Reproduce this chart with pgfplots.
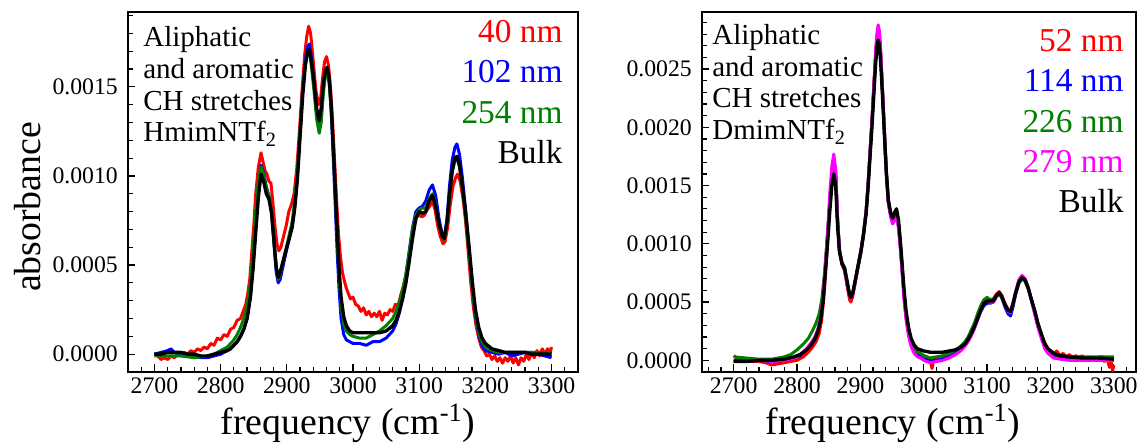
\documentclass[border=0pt]{standalone}
\usepackage{fontspec}
\setmainfont{Liberation Serif}
\usepackage{pgfplots}
\pgfplotsset{compat=1.18}

\definecolor{dgreen}{RGB}{0,128,0}
\definecolor{mag}{RGB}{255,0,255}
\definecolor{pred}{RGB}{255,0,0}
\definecolor{pblue}{RGB}{0,0,255}
\newcommand{\annot}{\fontsize{16.5}{18}\selectfont}
\newcommand{\leg}{\fontsize{19}{22}\selectfont}
\newcommand{\lab}{\fontsize{21.5}{24}\selectfont}

\pgfplotsset{
  spec/.style={
    scale only axis,
    height=7.2cm,
    axis line style={line width=0.9pt},
    tick style={black, line width=0.7pt},
    tick align=inside,
    tick pos=left,
    major tick length=0.15cm,
    minor tick length=0.1cm,
    xtick={2700,2800,...,3300},
    scaled y ticks=false,
    /pgf/number format/assume math mode=true,
    ticklabel style={font=\fontsize{13.5}{15}\selectfont},
    xticklabel style={/pgf/number format/1000 sep=},
    yticklabel style={xshift=-0.08cm, /pgf/number format/fixed, /pgf/number format/fixed zerofill, /pgf/number format/precision=4},
    every axis plot/.append style={line width=1.7pt, line join=round, mark=none},
  }
}

\begin{document}
\begin{tikzpicture}
\path[use as bounding box] (-2.56cm,-1.46cm) rectangle (20.2cm,7.44cm);

% ---------------- left panel: HmimNTf2 ----------------
\begin{axis}[spec, name=L, width=9cm,
  xmin=2660, xmax=3340, ymin=-0.0001, ymax=0.00192,
  minor xtick={2660,2680,...,3340},
  ytick={0,0.0005,0.001,0.0015},
  minor ytick={-0.0001,0.0001,0.0002,0.0003,0.0004,0.0006,0.0007,0.0008,0.0009,0.0011,0.0012,0.0013,0.0014,0.0016,0.0017,0.0018,0.0019},
]
% 40 nm
\addplot[pred] coordinates {
(2700,0.00000)(2705,-0.00001)(2710,-0.00003)(2715,-0.00002)(2720,-0.00003)(2725,-0.00001)(2730,-0.00002)(2735,0.00000)(2740,-0.00001)(2745,0.00001)(2750,0.00000)(2755,0.00002)(2760,0.00001)(2765,0.00003)(2770,0.00002)(2775,0.00004)(2780,0.00003)(2785,0.00006)(2790,0.00005)(2795,0.00009)(2800,0.00008)(2805,0.00011)(2810,0.00010)(2815,0.00014)(2820,0.00015)(2825,0.00019)(2830,0.00020)(2835,0.00025)(2838,0.00028)(2841,0.00034)(2844,0.00042)(2847,0.00057)(2850,0.00072)(2853,0.00090)(2857,0.00105)(2861,0.00113)(2864,0.00108)(2867,0.00103)(2870,0.00101)(2873,0.00097)(2876,0.00096)(2879,0.00085)(2882,0.00072)(2885,0.00062)(2888,0.00058)(2891,0.00060)(2895,0.00066)(2899,0.00072)(2903,0.00080)(2907,0.00084)(2911,0.00090)(2915,0.00104)(2919,0.00125)(2923,0.00148)(2927,0.00168)(2930,0.00178)(2933,0.00184)(2936,0.00180)(2940,0.00164)(2944,0.00148)(2948,0.00140)(2951,0.00143)(2954,0.00155)(2957,0.00164)(2960,0.00167)(2963,0.00162)(2966,0.00150)(2969,0.00132)(2972,0.00110)(2975,0.00088)(2978,0.00068)(2981,0.00055)(2984,0.00046)(2987,0.00041)(2990,0.00037)(2993,0.00034)(2996,0.00031)(3000,0.00032)(3004,0.00028)(3008,0.00027)(3012,0.00024)(3016,0.00026)(3020,0.00022)(3024,0.00024)(3028,0.00021)(3032,0.00023)(3036,0.00021)(3040,0.00024)(3044,0.00019)(3048,0.00023)(3052,0.00022)(3056,0.00025)(3060,0.00024)(3064,0.00028)(3068,0.00027)(3072,0.00033)(3076,0.00038)(3080,0.00044)(3084,0.00053)(3088,0.00063)(3092,0.00072)(3096,0.00077)(3100,0.00078)(3104,0.00077)(3108,0.00078)(3112,0.00081)(3116,0.00083)(3120,0.00086)(3124,0.00081)(3128,0.00072)(3132,0.00066)(3136,0.00062)(3139,0.00063)(3143,0.00071)(3147,0.00084)(3151,0.00094)(3155,0.00099)(3158,0.00101)(3162,0.00097)(3166,0.00088)(3170,0.00075)(3174,0.00058)(3178,0.00040)(3182,0.00026)(3186,0.00016)(3190,0.00009)(3194,0.00004)(3198,0.00002)(3202,-0.00001)(3206,0.00000)(3210,-0.00003)(3214,-0.00001)(3218,-0.00004)(3222,-0.00002)(3226,-0.00005)(3230,-0.00002)(3234,-0.00004)(3238,-0.00001)(3242,-0.00005)(3246,-0.00002)(3250,-0.00006)(3254,-0.00002)(3258,-0.00004)(3262,0.00000)(3266,-0.00003)(3270,0.00001)(3274,-0.00002)(3278,0.00002)(3282,-0.00001)(3286,0.00003)(3290,0.00000)(3294,0.00003)(3298,0.00001)(3300,0.00004)
};
% 102 nm
\addplot[pblue] coordinates {
(2700,0.00000)(2710,0.00001)(2720,0.00002)(2725,0.00003)(2730,0.00001)(2740,0.00000)(2760,-0.00001)(2770,-0.00002)(2780,-0.00002)(2790,-0.00001)(2800,0.00000)(2810,0.00002)(2820,0.00005)(2825,0.00007)(2830,0.00010)(2835,0.00014)(2840,0.00020)(2845,0.00033)(2849,0.00050)(2853,0.00072)(2857,0.00093)(2861,0.00106)(2865,0.00102)(2869,0.00094)(2873,0.00089)(2877,0.00079)(2881,0.00060)(2884,0.00046)(2887,0.00040)(2890,0.00042)(2897,0.00054)(2903,0.00064)(2908,0.00072)(2912,0.00083)(2916,0.00100)(2920,0.00124)(2924,0.00148)(2928,0.00165)(2931,0.00172)(2934,0.00174)(2937,0.00167)(2941,0.00153)(2945,0.00137)(2949,0.00130)(2952,0.00137)(2955,0.00150)(2958,0.00158)(2961,0.00160)(2964,0.00153)(2967,0.00137)(2970,0.00112)(2973,0.00085)(2976,0.00058)(2979,0.00036)(2982,0.00020)(2986,0.00011)(2990,0.00008)(2995,0.00007)(3000,0.00006)(3010,0.00006)(3020,0.00005)(3030,0.00007)(3040,0.00007)(3050,0.00009)(3060,0.00013)(3065,0.00017)(3070,0.00023)(3075,0.00032)(3080,0.00044)(3085,0.00058)(3090,0.00071)(3095,0.00080)(3100,0.00082)(3105,0.00083)(3110,0.00086)(3115,0.00092)(3120,0.00095)(3125,0.00089)(3130,0.00076)(3135,0.00067)(3138,0.00065)(3142,0.00076)(3146,0.00095)(3150,0.00109)(3154,0.00116)(3157,0.00118)(3161,0.00112)(3165,0.00100)(3170,0.00082)(3175,0.00060)(3180,0.00039)(3185,0.00021)(3190,0.00011)(3195,0.00005)(3200,0.00002)(3210,0.00001)(3220,0.00000)(3230,0.00001)(3240,-0.00001)(3250,0.00000)(3260,0.00001)(3270,0.00001)(3280,0.00000)(3290,-0.00001)(3300,-0.00002)
};
% 254 nm
\addplot[dgreen] coordinates {
(2700,-0.00001)(2720,-0.00001)(2740,-0.00001)(2760,-0.00002)(2780,-0.00001)(2790,0.00000)(2800,0.00002)(2810,0.00004)(2820,0.00008)(2825,0.00011)(2830,0.00015)(2835,0.00020)(2840,0.00027)(2845,0.00040)(2849,0.00058)(2853,0.00080)(2857,0.00097)(2861,0.00105)(2865,0.00101)(2869,0.00093)(2873,0.00089)(2877,0.00080)(2881,0.00062)(2884,0.00048)(2887,0.00042)(2890,0.00045)(2897,0.00056)(2903,0.00066)(2908,0.00074)(2912,0.00086)(2916,0.00103)(2920,0.00126)(2924,0.00148)(2928,0.00163)(2931,0.00169)(2934,0.00170)(2937,0.00162)(2941,0.00148)(2945,0.00132)(2949,0.00124)(2952,0.00130)(2955,0.00145)(2958,0.00156)(2961,0.00158)(2964,0.00152)(2967,0.00138)(2970,0.00116)(2973,0.00092)(2976,0.00066)(2979,0.00043)(2982,0.00027)(2986,0.00017)(2990,0.00013)(2995,0.00011)(3000,0.00010)(3010,0.00009)(3020,0.00009)(3030,0.00011)(3040,0.00013)(3050,0.00016)(3060,0.00020)(3065,0.00024)(3070,0.00029)(3075,0.00036)(3080,0.00045)(3085,0.00057)(3090,0.00070)(3095,0.00078)(3100,0.00081)(3105,0.00082)(3110,0.00082)(3115,0.00087)(3120,0.00090)(3125,0.00084)(3130,0.00073)(3135,0.00066)(3138,0.00064)(3142,0.00073)(3146,0.00089)(3150,0.00102)(3154,0.00109)(3157,0.00110)(3161,0.00105)(3165,0.00094)(3170,0.00078)(3175,0.00058)(3180,0.00038)(3185,0.00022)(3190,0.00012)(3195,0.00007)(3200,0.00004)(3210,0.00002)(3220,0.00001)(3250,0.00001)(3300,0.00001)
};
% Bulk
\addplot[black, line width=1.9pt] coordinates {
(2700,0.00000)(2710,0.00000)(2720,0.00001)(2730,0.00001)(2740,0.00001)(2750,0.00000)(2760,0.00000)(2770,-0.00001)(2780,-0.00001)(2790,0.00000)(2800,0.00001)(2810,0.00002)(2815,0.00003)(2820,0.00005)(2825,0.00007)(2830,0.00010)(2835,0.00014)(2840,0.00020)(2845,0.00032)(2849,0.00048)(2853,0.00068)(2857,0.00088)(2861,0.00101)(2865,0.00097)(2869,0.00090)(2873,0.00087)(2877,0.00079)(2881,0.00062)(2884,0.00049)(2887,0.00043)(2890,0.00046)(2897,0.00056)(2903,0.00064)(2908,0.00071)(2912,0.00082)(2916,0.00098)(2920,0.00122)(2924,0.00145)(2928,0.00162)(2931,0.00169)(2934,0.00171)(2937,0.00165)(2941,0.00153)(2945,0.00138)(2949,0.00131)(2952,0.00138)(2955,0.00151)(2958,0.00159)(2961,0.00161)(2964,0.00155)(2967,0.00140)(2970,0.00118)(2973,0.00095)(2976,0.00070)(2979,0.00048)(2982,0.00032)(2986,0.00021)(2990,0.00016)(2995,0.00013)(3000,0.00012)(3010,0.00012)(3020,0.00012)(3030,0.00012)(3040,0.00012)(3050,0.00013)(3060,0.00016)(3065,0.00019)(3070,0.00024)(3075,0.00031)(3080,0.00040)(3085,0.00052)(3090,0.00065)(3095,0.00076)(3100,0.00080)(3105,0.00079)(3110,0.00080)(3115,0.00086)(3120,0.00089)(3125,0.00083)(3130,0.00073)(3135,0.00066)(3138,0.00065)(3142,0.00074)(3146,0.00090)(3150,0.00103)(3154,0.00110)(3157,0.00111)(3161,0.00106)(3165,0.00095)(3170,0.00080)(3175,0.00062)(3180,0.00042)(3185,0.00025)(3190,0.00015)(3195,0.00009)(3200,0.00006)(3210,0.00003)(3220,0.00002)(3230,0.00001)(3260,0.00001)(3270,0.00000)(3300,0.00000)
};
\end{axis}

% ---------------- right panel: DmimNTf2 ----------------
\begin{axis}[spec, name=R, width=8.68cm, at={(11.48cm,0)}, anchor=south west,
  xmin=2650, xmax=3335, ymin=-0.0001, ymax=0.00299,
  minor xtick={2660,2680,...,3320},
  ytick={0,0.0005,0.001,0.0015,0.002,0.0025},
  minor ytick={-0.0001,0.0001,0.0002,0.0003,0.0004,0.0006,0.0007,0.0008,0.0009,0.0011,0.0012,0.0013,0.0014,0.0016,0.0017,0.0018,0.0019,0.0021,0.0022,0.0023,0.0024,0.0026,0.0027,0.0028,0.0029},
]
% 52 nm
\addplot[pred] coordinates {
(2700,0.00004)(2705,0.00002)(2710,0.00001)(2720,0.00000)(2730,-0.00001)(2740,-0.00001)(2750,-0.00002)(2760,-0.00004)(2770,-0.00003)(2780,-0.00002)(2790,-0.00001)(2800,0.00000)(2810,0.00003)(2818,0.00007)(2824,0.00011)(2830,0.00016)(2835,0.00023)(2839,0.00035)(2843,0.00058)(2847,0.00092)(2850,0.00120)(2853,0.00145)(2856,0.00163)(2858,0.00170)(2861,0.00160)(2864,0.00120)(2867,0.00094)(2871,0.00082)(2875,0.00077)(2879,0.00064)(2883,0.00052)(2885,0.00050)(2888,0.00055)(2892,0.00067)(2896,0.00079)(2901,0.00093)(2905,0.00108)(2909,0.00127)(2912,0.00149)(2915,0.00176)(2918,0.00203)(2921,0.00233)(2924,0.00262)(2926,0.00278)(2928,0.00285)(2930,0.00280)(2932,0.00264)(2935,0.00231)(2938,0.00196)(2941,0.00162)(2944,0.00138)(2948,0.00125)(2951,0.00121)(2954,0.00125)(2957,0.00127)(2960,0.00119)(2963,0.00101)(2966,0.00080)(2969,0.00058)(2972,0.00041)(2976,0.00027)(2980,0.00017)(2985,0.00011)(2990,0.00007)(2995,0.00005)(3000,0.00004)(3005,0.00003)(3010,0.00001)(3013,-0.00007)(3016,0.00001)(3020,0.00002)(3025,0.00000)(3030,0.00003)(3040,0.00004)(3050,0.00007)(3058,0.00010)(3065,0.00014)(3070,0.00018)(3075,0.00023)(3080,0.00029)(3085,0.00037)(3090,0.00044)(3095,0.00050)(3100,0.00051)(3105,0.00052)(3110,0.00053)(3115,0.00057)(3119,0.00059)(3123,0.00056)(3128,0.00049)(3133,0.00044)(3137,0.00042)(3141,0.00048)(3145,0.00057)(3150,0.00066)(3155,0.00070)(3160,0.00068)(3165,0.00061)(3170,0.00052)(3175,0.00042)(3180,0.00032)(3186,0.00022)(3191,0.00015)(3196,0.00010)(3200,0.00008)(3205,0.00006)(3210,0.00008)(3215,0.00004)(3220,0.00006)(3225,0.00003)(3230,0.00005)(3235,0.00002)(3240,0.00004)(3245,0.00002)(3250,0.00004)(3255,0.00001)(3260,0.00003)(3265,0.00001)(3270,0.00002)(3275,0.00000)(3280,0.00002)(3285,-0.00001)(3290,0.00001)(3293,-0.00006)(3296,-0.00002)(3298,-0.00009)(3300,-0.00004)
};
% 114 nm
\addplot[pblue] coordinates {
(2700,0.00000)(2720,0.00000)(2740,0.00000)(2760,-0.00001)(2780,0.00000)(2795,0.00002)(2805,0.00004)(2815,0.00009)(2822,0.00014)(2828,0.00019)(2833,0.00026)(2837,0.00035)(2841,0.00052)(2845,0.00081)(2849,0.00113)(2852,0.00140)(2855,0.00162)(2858,0.00172)(2861,0.00160)(2864,0.00120)(2867,0.00094)(2871,0.00083)(2875,0.00078)(2879,0.00066)(2883,0.00055)(2885,0.00053)(2888,0.00057)(2892,0.00068)(2896,0.00080)(2901,0.00094)(2905,0.00109)(2909,0.00127)(2912,0.00149)(2915,0.00176)(2918,0.00202)(2921,0.00231)(2924,0.00260)(2926,0.00276)(2928,0.00284)(2930,0.00279)(2932,0.00262)(2935,0.00229)(2938,0.00194)(2941,0.00160)(2944,0.00136)(2948,0.00124)(2951,0.00120)(2954,0.00125)(2957,0.00127)(2960,0.00117)(2963,0.00098)(2966,0.00076)(2969,0.00054)(2972,0.00037)(2976,0.00023)(2980,0.00014)(2985,0.00008)(2990,0.00005)(2995,0.00003)(3000,0.00001)(3010,0.00000)(3020,0.00000)(3030,0.00001)(3040,0.00003)(3050,0.00006)(3058,0.00009)(3065,0.00013)(3070,0.00017)(3075,0.00022)(3080,0.00028)(3085,0.00035)(3090,0.00042)(3095,0.00047)(3100,0.00049)(3105,0.00049)(3110,0.00050)(3115,0.00055)(3119,0.00057)(3123,0.00054)(3128,0.00046)(3133,0.00040)(3137,0.00038)(3141,0.00046)(3145,0.00057)(3150,0.00067)(3155,0.00072)(3160,0.00069)(3165,0.00062)(3170,0.00052)(3175,0.00041)(3180,0.00030)(3186,0.00020)(3191,0.00012)(3196,0.00007)(3205,0.00004)(3215,0.00003)(3230,0.00002)(3250,0.00003)(3265,0.00001)(3280,0.00003)(3300,0.00001)
};
% 226 nm
\addplot[dgreen] coordinates {
(2700,0.00003)(2720,0.00002)(2740,0.00001)(2760,0.00001)(2780,0.00003)(2790,0.00005)(2800,0.00009)(2810,0.00014)(2818,0.00019)(2824,0.00025)(2830,0.00032)(2835,0.00040)(2839,0.00052)(2843,0.00073)(2847,0.00100)(2850,0.00124)(2853,0.00146)(2856,0.00163)(2858,0.00168)(2861,0.00158)(2864,0.00120)(2867,0.00095)(2871,0.00084)(2875,0.00080)(2879,0.00068)(2883,0.00056)(2885,0.00054)(2888,0.00058)(2892,0.00069)(2896,0.00081)(2901,0.00095)(2905,0.00110)(2909,0.00128)(2912,0.00150)(2915,0.00176)(2918,0.00203)(2921,0.00232)(2924,0.00260)(2926,0.00274)(2928,0.00280)(2930,0.00276)(2932,0.00261)(2935,0.00230)(2938,0.00194)(2941,0.00161)(2944,0.00137)(2948,0.00124)(2951,0.00120)(2954,0.00125)(2957,0.00127)(2960,0.00118)(2963,0.00100)(2966,0.00078)(2969,0.00057)(2972,0.00040)(2976,0.00026)(2980,0.00016)(2985,0.00010)(2990,0.00007)(2995,0.00006)(3000,0.00004)(3010,0.00002)(3020,0.00003)(3030,0.00004)(3040,0.00006)(3050,0.00009)(3058,0.00012)(3065,0.00016)(3070,0.00020)(3075,0.00026)(3080,0.00032)(3085,0.00040)(3090,0.00047)(3095,0.00052)(3100,0.00054)(3105,0.00052)(3110,0.00052)(3115,0.00055)(3119,0.00057)(3123,0.00054)(3128,0.00048)(3133,0.00043)(3137,0.00042)(3141,0.00048)(3145,0.00057)(3150,0.00066)(3155,0.00070)(3160,0.00068)(3165,0.00061)(3170,0.00052)(3175,0.00042)(3180,0.00031)(3186,0.00021)(3191,0.00013)(3196,0.00008)(3205,0.00005)(3215,0.00004)(3230,0.00003)(3300,0.00003)
};
% 279 nm
\addplot[mag] coordinates {
(2700,-0.00001)(2720,-0.00001)(2740,0.00000)(2760,-0.00001)(2780,0.00000)(2795,0.00002)(2805,0.00005)(2815,0.00010)(2822,0.00015)(2828,0.00020)(2833,0.00027)(2837,0.00036)(2841,0.00054)(2845,0.00084)(2849,0.00117)(2852,0.00145)(2855,0.00167)(2858,0.00177)(2861,0.00164)(2864,0.00122)(2867,0.00095)(2871,0.00083)(2875,0.00078)(2879,0.00066)(2883,0.00055)(2885,0.00053)(2888,0.00057)(2892,0.00068)(2896,0.00080)(2901,0.00094)(2905,0.00109)(2909,0.00128)(2912,0.00150)(2915,0.00177)(2918,0.00204)(2921,0.00234)(2924,0.00264)(2926,0.00280)(2928,0.00288)(2930,0.00283)(2932,0.00266)(2935,0.00232)(2938,0.00195)(2941,0.00160)(2944,0.00135)(2948,0.00122)(2951,0.00117)(2954,0.00121)(2957,0.00122)(2960,0.00114)(2963,0.00096)(2966,0.00074)(2969,0.00052)(2972,0.00035)(2976,0.00021)(2980,0.00012)(2985,0.00006)(2990,0.00003)(2995,0.00002)(3000,0.00000)(3010,-0.00002)(3020,-0.00001)(3030,0.00000)(3040,0.00002)(3050,0.00005)(3058,0.00008)(3065,0.00012)(3070,0.00016)(3075,0.00021)(3080,0.00027)(3085,0.00035)(3090,0.00043)(3095,0.00049)(3100,0.00051)(3105,0.00050)(3110,0.00050)(3115,0.00055)(3119,0.00058)(3123,0.00055)(3128,0.00048)(3133,0.00042)(3137,0.00041)(3141,0.00049)(3145,0.00059)(3150,0.00069)(3155,0.00073)(3160,0.00070)(3165,0.00062)(3170,0.00051)(3175,0.00040)(3180,0.00029)(3186,0.00018)(3191,0.00010)(3196,0.00006)(3205,0.00002)(3215,0.00001)(3230,0.00000)(3300,0.00000)
};
% Bulk
\addplot[black, line width=1.9pt] coordinates {
(2700,-0.00001)(2720,-0.00001)(2740,0.00000)(2760,0.00000)(2780,0.00001)(2795,0.00003)(2805,0.00005)(2815,0.00009)(2822,0.00013)(2828,0.00018)(2833,0.00025)(2837,0.00034)(2841,0.00050)(2845,0.00077)(2849,0.00106)(2852,0.00130)(2855,0.00150)(2858,0.00160)(2861,0.00150)(2864,0.00115)(2867,0.00093)(2871,0.00083)(2875,0.00079)(2879,0.00068)(2883,0.00056)(2885,0.00054)(2888,0.00058)(2892,0.00069)(2896,0.00080)(2901,0.00094)(2905,0.00108)(2909,0.00126)(2912,0.00147)(2915,0.00173)(2918,0.00198)(2921,0.00226)(2924,0.00254)(2926,0.00268)(2928,0.00275)(2930,0.00271)(2932,0.00256)(2935,0.00226)(2938,0.00193)(2941,0.00161)(2944,0.00138)(2948,0.00126)(2951,0.00122)(2954,0.00127)(2957,0.00130)(2960,0.00121)(2963,0.00103)(2966,0.00082)(2969,0.00060)(2972,0.00043)(2976,0.00028)(2980,0.00019)(2985,0.00013)(2990,0.00010)(2995,0.00009)(3000,0.00008)(3010,0.00007)(3020,0.00007)(3030,0.00007)(3040,0.00008)(3050,0.00009)(3058,0.00011)(3065,0.00014)(3070,0.00018)(3075,0.00023)(3080,0.00029)(3085,0.00036)(3090,0.00043)(3095,0.00049)(3100,0.00051)(3105,0.00051)(3110,0.00051)(3115,0.00056)(3119,0.00058)(3123,0.00055)(3128,0.00048)(3133,0.00043)(3137,0.00042)(3141,0.00049)(3145,0.00058)(3150,0.00067)(3155,0.00071)(3160,0.00069)(3165,0.00062)(3170,0.00052)(3175,0.00043)(3180,0.00032)(3186,0.00022)(3191,0.00014)(3196,0.00010)(3205,0.00006)(3215,0.00004)(3230,0.00003)(3250,0.00002)(3275,0.00002)(3300,0.00001)
};
\end{axis}

% annotations, left
\node[anchor=base west, font=\annot, inner sep=0] at ([shift={(0.3cm,-0.70cm)}]L.north west) {Aliphatic};
\node[anchor=base west, font=\annot, inner sep=0] at ([shift={(0.3cm,-1.34cm)}]L.north west) {and aromatic};
\node[anchor=base west, font=\annot, inner sep=0] at ([shift={(0.3cm,-1.97cm)}]L.north west) {CH stretches};
\node[anchor=base west, font=\annot, inner sep=0] at ([shift={(0.3cm,-2.60cm)}]L.north west) {HmimNTf\textsubscript{2}};
\node[anchor=base east, font=\leg, inner sep=0, text=pred] at ([shift={(-0.3cm,-0.62cm)}]L.north east) {40 nm};
\node[anchor=base east, font=\leg, inner sep=0, text=pblue] at ([shift={(-0.3cm,-1.42cm)}]L.north east) {102 nm};
\node[anchor=base east, font=\leg, inner sep=0, text=dgreen] at ([shift={(-0.3cm,-2.24cm)}]L.north east) {254 nm};
\node[anchor=base east, font=\leg, inner sep=0] at ([shift={(-0.3cm,-3.04cm)}]L.north east) {Bulk};
\node[anchor=base, rotate=90, font=\lab, inner sep=0] at ([shift={(-1.74cm,3.3cm)}]L.south west) {absorbance};
\node[anchor=base, font=\lab, inner sep=0] at ([shift={(4.4cm,-1.26cm)}]L.south west) {frequency (cm\textsuperscript{-1})};

% annotations, right
\node[anchor=base west, font=\annot, inner sep=0] at ([shift={(0.2cm,-0.66cm)}]R.north west) {Aliphatic};
\node[anchor=base west, font=\annot, inner sep=0] at ([shift={(0.2cm,-1.29cm)}]R.north west) {and aromatic};
\node[anchor=base west, font=\annot, inner sep=0] at ([shift={(0.2cm,-1.92cm)}]R.north west) {CH stretches};
\node[anchor=base west, font=\annot, inner sep=0] at ([shift={(0.2cm,-2.55cm)}]R.north west) {DmimNTf\textsubscript{2}};
\node[anchor=base east, font=\leg, inner sep=0, text=pred] at ([shift={(-0.24cm,-0.80cm)}]R.north east) {52 nm};
\node[anchor=base east, font=\leg, inner sep=0, text=pblue] at ([shift={(-0.24cm,-1.60cm)}]R.north east) {114 nm};
\node[anchor=base east, font=\leg, inner sep=0, text=dgreen] at ([shift={(-0.24cm,-2.42cm)}]R.north east) {226 nm};
\node[anchor=base east, font=\leg, inner sep=0, text=mag] at ([shift={(-0.24cm,-3.22cm)}]R.north east) {279 nm};
\node[anchor=base east, font=\leg, inner sep=0] at ([shift={(-0.24cm,-4.02cm)}]R.north east) {Bulk};
\node[anchor=base, font=\lab, inner sep=0] at ([shift={(3.82cm,-1.26cm)}]R.south west) {frequency (cm\textsuperscript{-1})};
\end{tikzpicture}
\end{document}
